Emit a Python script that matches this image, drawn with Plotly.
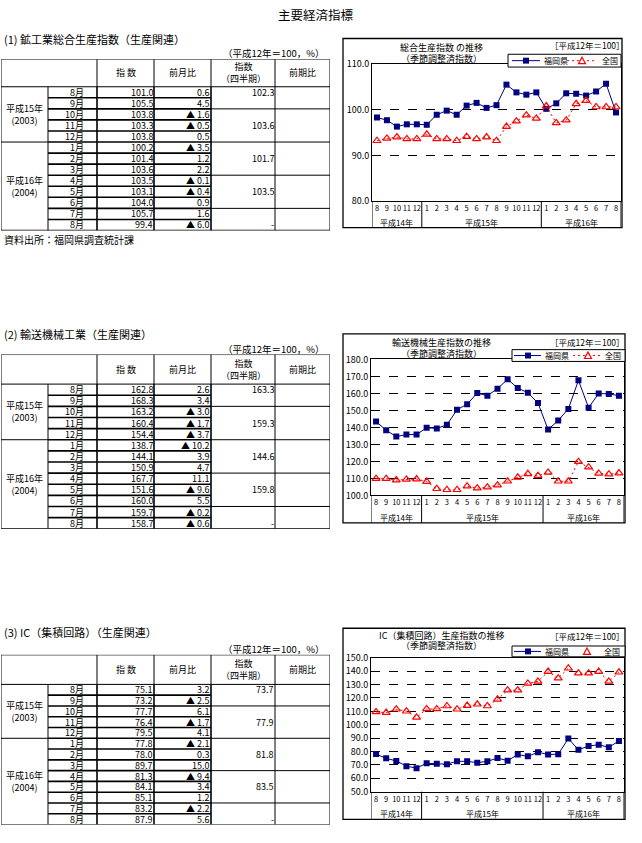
import plotly.graph_objects as go

W, H = 642, 843
FONT = "Noto Sans CJK JP"

# ---------------- data ----------------
chart_years = ["平成14年", "平成14年", "平成14年", "平成14年", "平成14年",
               "平成15年", "平成15年", "平成15年", "平成15年", "平成15年", "平成15年",
               "平成15年", "平成15年", "平成15年", "平成15年", "平成15年", "平成15年",
               "平成16年", "平成16年", "平成16年", "平成16年", "平成16年", "平成16年",
               "平成16年", "平成16年"]
chart_months = ["8", "9", "10", "11", "12",
                "1", "2", "3", "4", "5", "6", "7", "8", "9", "10", "11", "12",
                "1", "2", "3", "4", "5", "6", "7", "8"]
series_names = ["福岡県", "全国"]

fukuoka_total = [98.3, 97.7, 96.3, 96.8, 96.8, 96.7, 98.9, 99.8, 98.9, 100.9, 101.5, 100.4,
                 101.0, 105.5, 103.8, 103.3, 103.8, 100.2, 101.4, 103.6, 103.5, 103.1, 104.0, 105.7, 99.4]
japan_total = [93.2, 93.7, 94.0, 93.6, 93.6, 94.6, 93.6, 93.6, 93.2, 94.1, 93.6, 94.0,
               93.2, 96.3, 97.5, 98.8, 98.1, 100.8, 97.1, 97.7, 101.3, 102.0, 100.6, 100.6, 100.6]

fukuoka_transport = [143.5, 138.3, 134.6, 135.8, 135.8, 139.8, 139.4, 141.5, 150.4, 153.7, 160.2, 158.7,
                     162.8, 168.3, 163.2, 160.4, 154.4, 138.7, 144.1, 150.9, 167.7, 151.6, 160.0, 159.7, 158.7]
japan_transport = [109.8, 109.8, 109.0, 109.4, 109.6, 108.1, 103.9, 103.3, 103.3, 105.4, 104.2, 104.8,
                   106.0, 108.3, 110.6, 112.7, 111.6, 113.5, 108.3, 108.3, 119.8, 116.6, 112.9, 112.5, 113.1]

fukuoka_ic = [78.1, 74.9, 73.0, 69.1, 67.6, 71.3, 70.8, 70.6, 72.7, 72.7, 71.7, 72.7,
              75.1, 73.2, 77.7, 76.4, 79.5, 77.8, 78.0, 89.7, 81.3, 84.1, 85.1, 83.2, 87.9]
japan_ic = [109.6, 109.1, 111.6, 110.1, 105.5, 111.8, 111.8, 114.0, 111.6, 114.3, 115.3, 114.0,
            119.0, 125.8, 125.8, 130.9, 132.4, 139.7, 134.8, 142.2, 138.5, 138.5, 139.7, 132.4, 139.2]

table_months = ["8月", "9月", "10月", "11月", "12月", "1月", "2月", "3月", "4月", "5月", "6月", "7月", "8月"]
table_years = ["平成15年<br>(2003)", "平成16年<br>(2004)"]
year_row_spans = [(0, 5), (5, 13)]

total_index = [101.0, 105.5, 103.8, 103.3, 103.8, 100.2, 101.4, 103.6, 103.5, 103.1, 104.0, 105.7, 99.4]
total_mom = [0.6, 4.5, -1.6, -0.5, 0.5, -3.5, 1.2, 2.2, -0.1, -0.4, 0.9, 1.6, -6.0]
total_quarter = [102.3, 103.6, 101.7, 103.5, None]
total_qoq = [1.9, 1.3, -1.8, 1.8, None]

transport_index = [162.8, 168.3, 163.2, 160.4, 154.4, 138.7, 144.1, 150.9, 167.7, 151.6, 160.0, 159.7, 158.7]
transport_mom = [2.6, 3.4, -3.0, -1.7, -3.7, -10.2, 3.9, 4.7, 11.1, -9.6, 5.5, -0.2, -0.6]
transport_quarter = [163.3, 159.3, 144.6, 159.8, None]
transport_qoq = [5.6, -2.4, -9.2, 10.5, None]

ic_index = [75.1, 73.2, 77.7, 76.4, 79.5, 77.8, 78.0, 89.7, 81.3, 84.1, 85.1, 83.2, 87.9]
ic_mom = [3.2, -2.5, 6.1, -1.7, 4.1, -2.1, 0.3, 15.0, -9.4, 3.4, 1.2, -2.2, 5.6]
ic_quarter = [73.7, 77.9, 81.8, 83.5, None]
ic_qoq = [1.8, 5.7, 5.0, 2.1, None]

quarter_rows = [0, 3, 6, 9, 12]
quarter_breaks = [2, 5, 8, 11]

# ---------------- helpers ----------------
def fx(px):
    return px / W


def fy(py):
    return 1 - py / H


def fmt(v):
    if v is None:
        return "-"
    if v < 0:
        return "▲ %.1f" % abs(v)
    return "%.1f" % v


chart_keys = [y + "/" + m for y, m in zip(chart_years, chart_months)]
groups = []
for i, y in enumerate(chart_years):
    if not groups or groups[-1][0] != y:
        groups.append([y, i, i])
    else:
        groups[-1][2] = i

fig = go.Figure()
layout = dict(
    width=W, height=H, margin=dict(l=0, r=0, t=0, b=0),
    paper_bgcolor="white", plot_bgcolor="white",
    font=dict(family=FONT, color="black", size=10),
    showlegend=False,
)
shapes, annos = [], []
NAVY, RED = "#000080", "#ff0000"


def text(x, y, s, size=10, xanchor="left", yanchor="middle", **kw):
    annos.append(dict(x=fx(x), y=fy(y), xref="paper", yref="paper", text=s, showarrow=False,
                      xanchor=xanchor, yanchor=yanchor,
                      font=dict(size=size, family=FONT, color="black"), **kw))


def pline(x0, y0, x1, y1, color="black", width=1, dash="solid", layer="above"):
    shapes.append(dict(type="line", xref="paper", yref="paper", x0=fx(x0), x1=fx(x1),
                       y0=fy(y0), y1=fy(y1), line=dict(color=color, width=width, dash=dash), layer=layer))


text(316, 8, "主要経済指標", size=12.5, xanchor="center")

# ---------------- charts ----------------
chart_specs = [
    dict(fk=fukuoka_total, jp=japan_total, rng=[80, 110], box=(343, 32, 622, 224),
         plot=(372, 58, 621, 197), title="総合生産指数 の推移", ty=41, uy=39,
         legbox=(508, 48, 621, 61), blue=(512, 540, 526, 542), red=(567, 597, 582, 600)),
    dict(fk=fukuoka_transport, jp=japan_transport, rng=[100, 180], box=(343, 332, 625, 524),
         plot=(371, 358, 624, 496), title="輸送機械生産指数の推移", ty=341, uy=340,
         legbox=(512, 348, 625, 360), blue=(514, 541, 528, 543), red=(573, 600, 588, 603)),
    dict(fk=fukuoka_ic, jp=japan_ic, rng=[50, 150], box=(343, 631, 625, 825),
         plot=(371, 661, 624, 797), title="IC（集積回路）生産指数の推移", ty=638, uy=639,
         legbox=(512, 649, 625, 660), blue=(514, 541, 528, 543), red=(None, None, 587, 602)),
]

for i, c in enumerate(chart_specs, start=1):
    sfx = "" if i == 1 else str(i)
    xa, ya = "x" + sfx, "y" + sfx
    fig.add_trace(go.Scatter(
        x=chart_keys, y=c["fk"], name=series_names[0], mode="lines+markers",
        xaxis=xa, yaxis=ya, line=dict(color=NAVY, width=1),
        marker=dict(symbol="square", size=6, color=NAVY),
    ))
    fig.add_trace(go.Scatter(
        x=chart_keys, y=c["jp"], name=series_names[1], mode="lines+markers",
        xaxis=xa, yaxis=ya, line=dict(color=RED, width=1, dash="2px,3px"),
        marker=dict(symbol="triangle-up-open", size=7, color=RED, line=dict(width=1.2, color=RED)),
    ))
    x0, y0, x1, y1 = c["plot"]
    layout["xaxis" + sfx] = dict(
        domain=[fx(x0), fx(x1)], anchor=ya, type="category",
        categoryorder="array", categoryarray=chart_keys, range=[-0.5, len(chart_keys) - 0.5],
        tickmode="array", tickvals=chart_keys, ticktext=chart_months,
        showline=True, mirror=True, linecolor="black", linewidth=1,
        showgrid=False, ticks="", tickangle=0, tickfont=dict(size=7.5, family=FONT), fixedrange=True,
    )
    layout["yaxis" + sfx] = dict(
        domain=[fy(y1), fy(y0)], anchor=xa, range=c["rng"], dtick=10, tick0=0,
        tickformat=".1f", showline=True, mirror=True, linecolor="black", linewidth=1,
        showgrid=True, gridcolor="black", griddash="dash", gridwidth=1, zeroline=False,
        ticks="", tickfont=dict(size=9, family=FONT), fixedrange=True,
    )
    bx0, by0, bx1, by1 = c["box"]
    shapes.append(dict(type="rect", xref="paper", yref="paper", x0=fx(bx0), x1=fx(bx1),
                       y0=fy(by1), y1=fy(by0), line=dict(color="black", width=1.3), layer="below"))
    for gname, g0, g1 in groups:
        shapes.append(dict(type="line", xref=xa, yref="paper", x0=g0 - 0.5, x1=g0 - 0.5,
                           y0=fy(by1), y1=fy(y1), line=dict(color="black", width=1)))
        annos.append(dict(x=(g0 + g1) / 2, y=fy(y1 + 22), xref=xa, yref="paper", text=gname,
                          showarrow=False, xanchor="center", yanchor="middle",
                          font=dict(size=8, family=FONT, color="black")))
    shapes.append(dict(type="line", xref=xa, yref="paper", x0=groups[-1][2] + 0.5, x1=groups[-1][2] + 0.5,
                       y0=fy(by1), y1=fy(y1), line=dict(color="black", width=1)))
    text(441, c["ty"], c["title"], size=9, xanchor="center")
    text(441, c["ty"] + 11, "（季節調整済指数）", size=9, xanchor="center")
    text(587, c["uy"], "［平成12年＝100］", size=8.5, xanchor="center")

    # legend box (drawn)
    lx0, ly0, lx1, ly1 = c["legbox"]
    shapes.append(dict(type="rect", xref="paper", yref="paper", x0=fx(lx0), x1=fx(lx1),
                       y0=fy(ly1), y1=fy(ly0), line=dict(color="black", width=1),
                       fillcolor="white", layer="above"))
    cy = (ly0 + ly1) / 2
    bl0, bl1, bsq, btx = c["blue"]
    pline(bl0, cy, bl1, cy, color=NAVY, width=1)
    shapes.append(dict(type="rect", xref="paper", yref="paper", x0=fx(bsq - 3), x1=fx(bsq + 3),
                       y0=fy(cy + 3), y1=fy(cy - 3), line=dict(color=NAVY, width=0),
                       fillcolor=NAVY, layer="above"))
    text(btx, cy, series_names[0], size=8)
    rl0, rl1, rtri, rtx = c["red"]
    if rl0 is not None:
        pline(rl0, cy, rl1, cy, color=RED, width=1, dash="2px,3px")
    path = "M %f,%f L %f,%f L %f,%f Z" % (fx(rtri - 3.5), fy(cy + 3), fx(rtri + 3.5), fy(cy + 3),
                                          fx(rtri), fy(cy - 3.5))
    shapes.append(dict(type="path", xref="paper", yref="paper", path=path,
                       line=dict(color=RED, width=1.2), fillcolor="white", layer="above"))
    text(rtx, cy, series_names[1], size=8)

# ---------------- tables ----------------
COL_X = [1, 48, 97, 154, 211, 275, 330]
headers = ["指 数", "前月比", "指数<br>（四半期）", "前期比"]

table_specs = [
    dict(n=4, top=53, hdr_px=28, row_px=11.23, idx=total_index, mom=total_mom, q=total_quarter, qq=total_qoq,
         heading="(1) 鉱工業総合生産指数（生産関連）", hy=33),
    dict(n=5, top=353, hdr_px=30, row_px=11.3, idx=transport_index, mom=transport_mom, q=transport_quarter,
         qq=transport_qoq, heading="(2) 輸送機械工業（生産関連）", hy=332),
    dict(n=6, top=658, hdr_px=30, row_px=10.95, idx=ic_index, mom=ic_mom, q=ic_quarter, qq=ic_qoq,
         heading="(3) IC（集積回路）（生産関連）", hy=635),
]

for t in table_specs:
    n = t["n"]
    nrows = len(table_months)
    hdr = t["hdr_px"] / t["row_px"]
    bottom = t["top"] + t["hdr_px"] + nrows * t["row_px"]
    xa, ya = "x%d" % n, "y%d" % n
    layout["xaxis%d" % n] = dict(domain=[fx(COL_X[0]), fx(COL_X[-1])], range=[COL_X[0], COL_X[-1]],
                                 anchor=ya, visible=False, fixedrange=True)
    layout["yaxis%d" % n] = dict(domain=[fy(bottom), fy(t["top"])], range=[nrows, -hdr],
                                 anchor=xa, visible=False, fixedrange=True)
    fig.add_trace(go.Scatter(x=[COL_X[0]], y=[0], xaxis=xa, yaxis=ya, mode="markers",
                             marker=dict(opacity=0), showlegend=False, hoverinfo="skip"))

    def hline(y, xs, xe, w=1):
        shapes.append(dict(type="line", xref=xa, yref=ya, x0=xs, x1=xe, y0=y, y1=y,
                           line=dict(color="black", width=w)))

    def vline(x, ys, ye, w=1):
        shapes.append(dict(type="line", xref=xa, yref=ya, x0=x, x1=x, y0=ys, y1=ye,
                           line=dict(color="black", width=w)))

    hline(-hdr, COL_X[0], COL_X[-1])
    hline(0, COL_X[0], COL_X[-1])
    for k in range(1, nrows):
        hline(k, COL_X[1], COL_X[4], w=1.6)
    for (r0, r1) in year_row_spans[:-1]:
        hline(r1, COL_X[0], COL_X[1])
    for b in quarter_breaks:
        hline(b, COL_X[4], COL_X[6])
    hline(nrows, COL_X[0], COL_X[-1], w=1.3)
    vline(COL_X[0], -hdr, nrows)
    vline(COL_X[1], 0, nrows)
    vline(COL_X[2], -hdr, 0)
    vline(COL_X[3], -hdr, 0)
    vline(COL_X[4], -hdr, 0)
    for cx in COL_X[2:5]:
        vline(cx, 0, nrows, w=1.6)
    for cx in COL_X[5:]:
        vline(cx, -hdr, nrows)

    def cell(x, y, s, xanchor="right", size=9):
        annos.append(dict(x=x, y=y, xref=xa, yref=ya, text=s, showarrow=False, xanchor=xanchor,
                          yanchor="middle", font=dict(size=size, family=FONT, color="black")))

    for j, h in enumerate(headers):
        cell((COL_X[j + 2] + COL_X[j + 3]) / 2, -hdr / 2, h, xanchor="center")
    for label, (r0, r1) in zip(table_years, year_row_spans):
        cell((COL_X[0] + COL_X[1]) / 2, (r0 + r1) / 2, label, xanchor="center")
    for r in range(nrows):
        cell(86, r + 0.5, table_months[r])
        cell(COL_X[3] + 1, r + 0.5, fmt(t["idx"][r]))
        cell(COL_X[4] + 1, r + 0.5, fmt(t["mom"][r]))
    for qi, r in enumerate(quarter_rows):
        cell(COL_X[5] + 1, r + 0.5, fmt(t["q"][qi]))
        cell(COL_X[6] + 1, r + 0.5, fmt(t["qq"][qi]))

    text(2, t["hy"], t["heading"], size=11)
    text(327, t["top"] - 6, "（平成12年＝100，%）", size=9.5, xanchor="right")

text(2, 236, "資料出所：福岡県調査統計課", size=10)

layout["shapes"] = shapes
layout["annotations"] = annos
fig.update_layout(**layout)

fig.write_html("out.html", config={"displayModeBar": False},
               post_script="document.body.style.margin='0';document.body.style.overflow='hidden';")
